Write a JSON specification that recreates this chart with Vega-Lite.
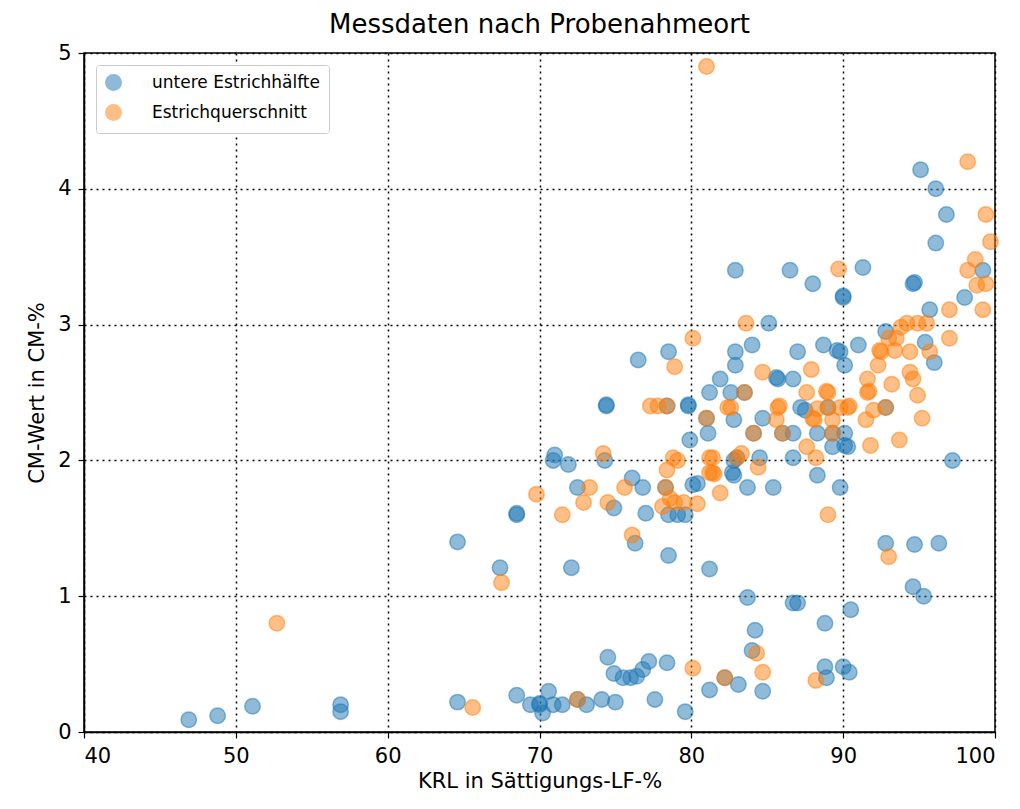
{
  "$schema": "https://vega.github.io/schema/vega-lite/v6.json",
  "autosize": "none",
  "width": 911,
  "height": 679,
  "padding": {"left": 84, "top": 53, "right": 25, "bottom": 77},
  "background": "white",
  "config": {
    "font": "DejaVu Sans",
    "view": {"stroke": "black", "strokeWidth": 1.5},
    "axis": {
      "domainColor": "black", "domainWidth": 1.5,
      "tickColor": "black", "tickSize": 6, "tickWidth": 1.2,
      "labelColor": "black", "labelFontSize": 21, "labelFont": "DejaVu Sans", "labelPadding": 7,
      "titleColor": "black", "titleFontSize": 21, "titleFont": "DejaVu Sans", "titleFontWeight": "normal",
      "grid": true, "gridColor": "black", "gridOpacity": 1, "gridWidth": 1.5, "gridDash": [2, 4]
    }
  },
  "title": {"text": "Messdaten nach Probenahmeort", "fontSize": 26, "font": "DejaVu Sans", "fontWeight": "normal", "color": "black", "offset": 4},
  "data": {"values": [
    {"krl": 46.9, "cm": 0.09, "ort": "untere Estrichhälfte"},
    {"krl": 48.8, "cm": 0.12, "ort": "untere Estrichhälfte"},
    {"krl": 51.1, "cm": 0.19, "ort": "untere Estrichhälfte"},
    {"krl": 56.9, "cm": 0.20, "ort": "untere Estrichhälfte"},
    {"krl": 56.9, "cm": 0.15, "ort": "untere Estrichhälfte"},
    {"krl": 64.6, "cm": 0.22, "ort": "untere Estrichhälfte"},
    {"krl": 68.5, "cm": 0.27, "ort": "untere Estrichhälfte"},
    {"krl": 69.4, "cm": 0.20, "ort": "untere Estrichhälfte"},
    {"krl": 70.0, "cm": 0.20, "ort": "untere Estrichhälfte"},
    {"krl": 70.0, "cm": 0.21, "ort": "untere Estrichhälfte"},
    {"krl": 70.2, "cm": 0.14, "ort": "untere Estrichhälfte"},
    {"krl": 70.6, "cm": 0.30, "ort": "untere Estrichhälfte"},
    {"krl": 70.9, "cm": 0.20, "ort": "untere Estrichhälfte"},
    {"krl": 71.5, "cm": 0.20, "ort": "untere Estrichhälfte"},
    {"krl": 72.5, "cm": 0.24, "ort": "untere Estrichhälfte"},
    {"krl": 73.1, "cm": 0.20, "ort": "untere Estrichhälfte"},
    {"krl": 74.1, "cm": 0.24, "ort": "untere Estrichhälfte"},
    {"krl": 75.0, "cm": 0.22, "ort": "untere Estrichhälfte"},
    {"krl": 74.5, "cm": 0.55, "ort": "untere Estrichhälfte"},
    {"krl": 74.9, "cm": 0.43, "ort": "untere Estrichhälfte"},
    {"krl": 75.5, "cm": 0.40, "ort": "untere Estrichhälfte"},
    {"krl": 76.0, "cm": 0.40, "ort": "untere Estrichhälfte"},
    {"krl": 76.4, "cm": 0.41, "ort": "untere Estrichhälfte"},
    {"krl": 76.8, "cm": 0.46, "ort": "untere Estrichhälfte"},
    {"krl": 77.2, "cm": 0.52, "ort": "untere Estrichhälfte"},
    {"krl": 77.6, "cm": 0.24, "ort": "untere Estrichhälfte"},
    {"krl": 78.4, "cm": 0.51, "ort": "untere Estrichhälfte"},
    {"krl": 79.6, "cm": 0.15, "ort": "untere Estrichhälfte"},
    {"krl": 81.2, "cm": 0.31, "ort": "untere Estrichhälfte"},
    {"krl": 82.2, "cm": 0.40, "ort": "untere Estrichhälfte"},
    {"krl": 83.1, "cm": 0.35, "ort": "untere Estrichhälfte"},
    {"krl": 84.7, "cm": 0.30, "ort": "untere Estrichhälfte"},
    {"krl": 84.0, "cm": 0.60, "ort": "untere Estrichhälfte"},
    {"krl": 84.2, "cm": 0.75, "ort": "untere Estrichhälfte"},
    {"krl": 83.7, "cm": 0.99, "ort": "untere Estrichhälfte"},
    {"krl": 86.7, "cm": 0.95, "ort": "untere Estrichhälfte"},
    {"krl": 87.0, "cm": 0.95, "ort": "untere Estrichhälfte"},
    {"krl": 88.8, "cm": 0.80, "ort": "untere Estrichhälfte"},
    {"krl": 88.8, "cm": 0.48, "ort": "untere Estrichhälfte"},
    {"krl": 88.9, "cm": 0.40, "ort": "untere Estrichhälfte"},
    {"krl": 90.0, "cm": 0.48, "ort": "untere Estrichhälfte"},
    {"krl": 90.4, "cm": 0.44, "ort": "untere Estrichhälfte"},
    {"krl": 90.5, "cm": 0.90, "ort": "untere Estrichhälfte"},
    {"krl": 92.8, "cm": 1.39, "ort": "untere Estrichhälfte"},
    {"krl": 94.7, "cm": 1.38, "ort": "untere Estrichhälfte"},
    {"krl": 96.3, "cm": 1.39, "ort": "untere Estrichhälfte"},
    {"krl": 94.6, "cm": 1.07, "ort": "untere Estrichhälfte"},
    {"krl": 95.3, "cm": 1.00, "ort": "untere Estrichhälfte"},
    {"krl": 64.6, "cm": 1.40, "ort": "untere Estrichhälfte"},
    {"krl": 67.4, "cm": 1.21, "ort": "untere Estrichhälfte"},
    {"krl": 72.1, "cm": 1.21, "ort": "untere Estrichhälfte"},
    {"krl": 76.3, "cm": 1.39, "ort": "untere Estrichhälfte"},
    {"krl": 78.5, "cm": 1.30, "ort": "untere Estrichhälfte"},
    {"krl": 81.2, "cm": 1.20, "ort": "untere Estrichhälfte"},
    {"krl": 68.5, "cm": 1.60, "ort": "untere Estrichhälfte"},
    {"krl": 68.5, "cm": 1.61, "ort": "untere Estrichhälfte"},
    {"krl": 70.9, "cm": 2.00, "ort": "untere Estrichhälfte"},
    {"krl": 71.0, "cm": 2.04, "ort": "untere Estrichhälfte"},
    {"krl": 71.9, "cm": 1.97, "ort": "untere Estrichhälfte"},
    {"krl": 72.5, "cm": 1.80, "ort": "untere Estrichhälfte"},
    {"krl": 74.3, "cm": 2.00, "ort": "untere Estrichhälfte"},
    {"krl": 74.9, "cm": 1.65, "ort": "untere Estrichhälfte"},
    {"krl": 76.1, "cm": 1.87, "ort": "untere Estrichhälfte"},
    {"krl": 76.8, "cm": 1.80, "ort": "untere Estrichhälfte"},
    {"krl": 77.0, "cm": 1.61, "ort": "untere Estrichhälfte"},
    {"krl": 74.4, "cm": 2.40, "ort": "untere Estrichhälfte"},
    {"krl": 74.4, "cm": 2.41, "ort": "untere Estrichhälfte"},
    {"krl": 76.5, "cm": 2.74, "ort": "untere Estrichhälfte"},
    {"krl": 78.5, "cm": 2.80, "ort": "untere Estrichhälfte"},
    {"krl": 78.4, "cm": 2.40, "ort": "untere Estrichhälfte"},
    {"krl": 79.8, "cm": 2.40, "ort": "untere Estrichhälfte"},
    {"krl": 79.8, "cm": 2.41, "ort": "untere Estrichhälfte"},
    {"krl": 81.0, "cm": 2.31, "ort": "untere Estrichhälfte"},
    {"krl": 81.1, "cm": 2.20, "ort": "untere Estrichhälfte"},
    {"krl": 79.9, "cm": 2.15, "ort": "untere Estrichhälfte"},
    {"krl": 81.9, "cm": 2.60, "ort": "untere Estrichhälfte"},
    {"krl": 81.2, "cm": 2.50, "ort": "untere Estrichhälfte"},
    {"krl": 82.6, "cm": 2.50, "ort": "untere Estrichhälfte"},
    {"krl": 82.9, "cm": 2.80, "ort": "untere Estrichhälfte"},
    {"krl": 82.9, "cm": 2.70, "ort": "untere Estrichhälfte"},
    {"krl": 82.8, "cm": 2.30, "ort": "untere Estrichhälfte"},
    {"krl": 80.1, "cm": 1.82, "ort": "untere Estrichhälfte"},
    {"krl": 80.4, "cm": 1.83, "ort": "untere Estrichhälfte"},
    {"krl": 78.3, "cm": 1.80, "ort": "untere Estrichhälfte"},
    {"krl": 78.5, "cm": 1.60, "ort": "untere Estrichhälfte"},
    {"krl": 79.1, "cm": 1.60, "ort": "untere Estrichhälfte"},
    {"krl": 79.6, "cm": 1.60, "ort": "untere Estrichhälfte"},
    {"krl": 82.7, "cm": 1.91, "ort": "untere Estrichhälfte"},
    {"krl": 82.8, "cm": 2.00, "ort": "untere Estrichhälfte"},
    {"krl": 84.0, "cm": 2.85, "ort": "untere Estrichhälfte"},
    {"krl": 84.7, "cm": 2.31, "ort": "untere Estrichhälfte"},
    {"krl": 83.5, "cm": 2.50, "ort": "untere Estrichhälfte"},
    {"krl": 85.7, "cm": 2.60, "ort": "untere Estrichhälfte"},
    {"krl": 85.6, "cm": 2.61, "ort": "untere Estrichhälfte"},
    {"krl": 86.7, "cm": 2.60, "ort": "untere Estrichhälfte"},
    {"krl": 87.0, "cm": 2.80, "ort": "untere Estrichhälfte"},
    {"krl": 88.7, "cm": 2.85, "ort": "untere Estrichhälfte"},
    {"krl": 89.6, "cm": 2.81, "ort": "untere Estrichhälfte"},
    {"krl": 89.8, "cm": 2.80, "ort": "untere Estrichhälfte"},
    {"krl": 91.0, "cm": 2.85, "ort": "untere Estrichhälfte"},
    {"krl": 90.1, "cm": 2.70, "ort": "untere Estrichhälfte"},
    {"krl": 87.2, "cm": 2.39, "ort": "untere Estrichhälfte"},
    {"krl": 87.5, "cm": 2.37, "ort": "untere Estrichhälfte"},
    {"krl": 89.0, "cm": 2.39, "ort": "untere Estrichhälfte"},
    {"krl": 84.1, "cm": 2.20, "ort": "untere Estrichhälfte"},
    {"krl": 86.0, "cm": 2.20, "ort": "untere Estrichhälfte"},
    {"krl": 86.7, "cm": 2.20, "ort": "untere Estrichhälfte"},
    {"krl": 88.3, "cm": 2.20, "ort": "untere Estrichhälfte"},
    {"krl": 89.3, "cm": 2.20, "ort": "untere Estrichhälfte"},
    {"krl": 90.1, "cm": 2.20, "ort": "untere Estrichhälfte"},
    {"krl": 89.3, "cm": 2.10, "ort": "untere Estrichhälfte"},
    {"krl": 90.3, "cm": 2.10, "ort": "untere Estrichhälfte"},
    {"krl": 90.1, "cm": 2.11, "ort": "untere Estrichhälfte"},
    {"krl": 83.0, "cm": 2.02, "ort": "untere Estrichhälfte"},
    {"krl": 84.5, "cm": 2.02, "ort": "untere Estrichhälfte"},
    {"krl": 86.7, "cm": 2.02, "ort": "untere Estrichhälfte"},
    {"krl": 82.8, "cm": 1.89, "ort": "untere Estrichhälfte"},
    {"krl": 88.3, "cm": 1.89, "ort": "untere Estrichhälfte"},
    {"krl": 83.7, "cm": 1.80, "ort": "untere Estrichhälfte"},
    {"krl": 85.4, "cm": 1.80, "ort": "untere Estrichhälfte"},
    {"krl": 89.8, "cm": 1.80, "ort": "untere Estrichhälfte"},
    {"krl": 97.2, "cm": 2.00, "ort": "untere Estrichhälfte"},
    {"krl": 92.8, "cm": 2.39, "ort": "untere Estrichhälfte"},
    {"krl": 95.1, "cm": 4.14, "ort": "untere Estrichhälfte"},
    {"krl": 96.1, "cm": 4.00, "ort": "untere Estrichhälfte"},
    {"krl": 96.8, "cm": 3.81, "ort": "untere Estrichhälfte"},
    {"krl": 96.1, "cm": 3.60, "ort": "untere Estrichhälfte"},
    {"krl": 99.2, "cm": 3.40, "ort": "untere Estrichhälfte"},
    {"krl": 98.0, "cm": 3.20, "ort": "untere Estrichhälfte"},
    {"krl": 95.7, "cm": 3.11, "ort": "untere Estrichhälfte"},
    {"krl": 94.6, "cm": 3.30, "ort": "untere Estrichhälfte"},
    {"krl": 94.7, "cm": 3.31, "ort": "untere Estrichhälfte"},
    {"krl": 91.3, "cm": 3.42, "ort": "untere Estrichhälfte"},
    {"krl": 90.0, "cm": 3.20, "ort": "untere Estrichhälfte"},
    {"krl": 90.0, "cm": 3.21, "ort": "untere Estrichhälfte"},
    {"krl": 88.0, "cm": 3.30, "ort": "untere Estrichhälfte"},
    {"krl": 86.5, "cm": 3.40, "ort": "untere Estrichhälfte"},
    {"krl": 82.9, "cm": 3.40, "ort": "untere Estrichhälfte"},
    {"krl": 85.1, "cm": 3.01, "ort": "untere Estrichhälfte"},
    {"krl": 92.8, "cm": 2.95, "ort": "untere Estrichhälfte"},
    {"krl": 95.4, "cm": 2.87, "ort": "untere Estrichhälfte"},
    {"krl": 96.0, "cm": 2.72, "ort": "untere Estrichhälfte"},
    {"krl": 52.7, "cm": 0.80, "ort": "Estrichquerschnitt"},
    {"krl": 65.6, "cm": 0.18, "ort": "Estrichquerschnitt"},
    {"krl": 67.5, "cm": 1.10, "ort": "Estrichquerschnitt"},
    {"krl": 72.5, "cm": 0.24, "ort": "Estrichquerschnitt"},
    {"krl": 76.1, "cm": 1.45, "ort": "Estrichquerschnitt"},
    {"krl": 80.1, "cm": 0.47, "ort": "Estrichquerschnitt"},
    {"krl": 82.2, "cm": 0.40, "ort": "Estrichquerschnitt"},
    {"krl": 84.3, "cm": 0.58, "ort": "Estrichquerschnitt"},
    {"krl": 84.7, "cm": 0.44, "ort": "Estrichquerschnitt"},
    {"krl": 88.2, "cm": 0.38, "ort": "Estrichquerschnitt"},
    {"krl": 93.0, "cm": 1.29, "ort": "Estrichquerschnitt"},
    {"krl": 69.8, "cm": 1.75, "ort": "Estrichquerschnitt"},
    {"krl": 71.5, "cm": 1.60, "ort": "Estrichquerschnitt"},
    {"krl": 73.3, "cm": 1.80, "ort": "Estrichquerschnitt"},
    {"krl": 72.9, "cm": 1.69, "ort": "Estrichquerschnitt"},
    {"krl": 74.2, "cm": 2.05, "ort": "Estrichquerschnitt"},
    {"krl": 74.5, "cm": 1.69, "ort": "Estrichquerschnitt"},
    {"krl": 75.6, "cm": 1.80, "ort": "Estrichquerschnitt"},
    {"krl": 77.3, "cm": 2.40, "ort": "Estrichquerschnitt"},
    {"krl": 77.8, "cm": 2.40, "ort": "Estrichquerschnitt"},
    {"krl": 78.4, "cm": 2.40, "ort": "Estrichquerschnitt"},
    {"krl": 78.9, "cm": 2.69, "ort": "Estrichquerschnitt"},
    {"krl": 80.1, "cm": 2.90, "ort": "Estrichquerschnitt"},
    {"krl": 81.0, "cm": 2.31, "ort": "Estrichquerschnitt"},
    {"krl": 82.4, "cm": 2.39, "ort": "Estrichquerschnitt"},
    {"krl": 78.8, "cm": 2.02, "ort": "Estrichquerschnitt"},
    {"krl": 78.4, "cm": 1.93, "ort": "Estrichquerschnitt"},
    {"krl": 81.2, "cm": 2.02, "ort": "Estrichquerschnitt"},
    {"krl": 81.2, "cm": 1.91, "ort": "Estrichquerschnitt"},
    {"krl": 81.9, "cm": 1.76, "ort": "Estrichquerschnitt"},
    {"krl": 78.3, "cm": 1.80, "ort": "Estrichquerschnitt"},
    {"krl": 78.6, "cm": 1.72, "ort": "Estrichquerschnitt"},
    {"krl": 78.9, "cm": 1.69, "ort": "Estrichquerschnitt"},
    {"krl": 79.5, "cm": 1.69, "ort": "Estrichquerschnitt"},
    {"krl": 78.1, "cm": 1.66, "ort": "Estrichquerschnitt"},
    {"krl": 80.4, "cm": 1.68, "ort": "Estrichquerschnitt"},
    {"krl": 79.1, "cm": 2.00, "ort": "Estrichquerschnitt"},
    {"krl": 84.7, "cm": 2.65, "ort": "Estrichquerschnitt"},
    {"krl": 83.5, "cm": 2.50, "ort": "Estrichquerschnitt"},
    {"krl": 87.9, "cm": 2.67, "ort": "Estrichquerschnitt"},
    {"krl": 87.6, "cm": 2.50, "ort": "Estrichquerschnitt"},
    {"krl": 89.0, "cm": 2.50, "ort": "Estrichquerschnitt"},
    {"krl": 88.9, "cm": 2.51, "ort": "Estrichquerschnitt"},
    {"krl": 91.6, "cm": 2.60, "ort": "Estrichquerschnitt"},
    {"krl": 91.6, "cm": 2.50, "ort": "Estrichquerschnitt"},
    {"krl": 91.7, "cm": 2.51, "ort": "Estrichquerschnitt"},
    {"krl": 92.3, "cm": 2.70, "ort": "Estrichquerschnitt"},
    {"krl": 92.5, "cm": 2.80, "ort": "Estrichquerschnitt"},
    {"krl": 93.2, "cm": 2.56, "ort": "Estrichquerschnitt"},
    {"krl": 92.8, "cm": 2.39, "ort": "Estrichquerschnitt"},
    {"krl": 94.4, "cm": 2.65, "ort": "Estrichquerschnitt"},
    {"krl": 94.6, "cm": 2.60, "ort": "Estrichquerschnitt"},
    {"krl": 94.9, "cm": 2.48, "ort": "Estrichquerschnitt"},
    {"krl": 95.2, "cm": 2.31, "ort": "Estrichquerschnitt"},
    {"krl": 93.7, "cm": 2.15, "ort": "Estrichquerschnitt"},
    {"krl": 91.8, "cm": 2.11, "ort": "Estrichquerschnitt"},
    {"krl": 91.5, "cm": 2.30, "ort": "Estrichquerschnitt"},
    {"krl": 92.0, "cm": 2.37, "ort": "Estrichquerschnitt"},
    {"krl": 90.3, "cm": 2.39, "ort": "Estrichquerschnitt"},
    {"krl": 90.4, "cm": 2.40, "ort": "Estrichquerschnitt"},
    {"krl": 89.8, "cm": 2.39, "ort": "Estrichquerschnitt"},
    {"krl": 89.0, "cm": 2.39, "ort": "Estrichquerschnitt"},
    {"krl": 85.7, "cm": 2.39, "ort": "Estrichquerschnitt"},
    {"krl": 85.8, "cm": 2.40, "ort": "Estrichquerschnitt"},
    {"krl": 88.0, "cm": 2.31, "ort": "Estrichquerschnitt"},
    {"krl": 88.1, "cm": 2.30, "ort": "Estrichquerschnitt"},
    {"krl": 89.3, "cm": 2.30, "ort": "Estrichquerschnitt"},
    {"krl": 88.3, "cm": 2.38, "ort": "Estrichquerschnitt"},
    {"krl": 85.6, "cm": 2.30, "ort": "Estrichquerschnitt"},
    {"krl": 82.6, "cm": 2.39, "ort": "Estrichquerschnitt"},
    {"krl": 84.1, "cm": 2.20, "ort": "Estrichquerschnitt"},
    {"krl": 86.0, "cm": 2.20, "ort": "Estrichquerschnitt"},
    {"krl": 89.3, "cm": 2.20, "ort": "Estrichquerschnitt"},
    {"krl": 87.6, "cm": 2.10, "ort": "Estrichquerschnitt"},
    {"krl": 81.4, "cm": 2.02, "ort": "Estrichquerschnitt"},
    {"krl": 83.0, "cm": 2.02, "ort": "Estrichquerschnitt"},
    {"krl": 88.2, "cm": 2.02, "ort": "Estrichquerschnitt"},
    {"krl": 83.3, "cm": 2.05, "ort": "Estrichquerschnitt"},
    {"krl": 84.4, "cm": 1.95, "ort": "Estrichquerschnitt"},
    {"krl": 81.4, "cm": 1.91, "ort": "Estrichquerschnitt"},
    {"krl": 81.5, "cm": 1.90, "ort": "Estrichquerschnitt"},
    {"krl": 89.0, "cm": 1.60, "ort": "Estrichquerschnitt"},
    {"krl": 81.0, "cm": 4.90, "ort": "Estrichquerschnitt"},
    {"krl": 98.2, "cm": 4.20, "ort": "Estrichquerschnitt"},
    {"krl": 99.4, "cm": 3.81, "ort": "Estrichquerschnitt"},
    {"krl": 99.7, "cm": 3.61, "ort": "Estrichquerschnitt"},
    {"krl": 98.7, "cm": 3.48, "ort": "Estrichquerschnitt"},
    {"krl": 98.2, "cm": 3.40, "ort": "Estrichquerschnitt"},
    {"krl": 98.8, "cm": 3.29, "ort": "Estrichquerschnitt"},
    {"krl": 99.4, "cm": 3.30, "ort": "Estrichquerschnitt"},
    {"krl": 99.2, "cm": 3.11, "ort": "Estrichquerschnitt"},
    {"krl": 97.0, "cm": 3.11, "ort": "Estrichquerschnitt"},
    {"krl": 89.7, "cm": 3.41, "ort": "Estrichquerschnitt"},
    {"krl": 83.6, "cm": 3.01, "ort": "Estrichquerschnitt"},
    {"krl": 94.2, "cm": 3.01, "ort": "Estrichquerschnitt"},
    {"krl": 94.9, "cm": 3.01, "ort": "Estrichquerschnitt"},
    {"krl": 95.5, "cm": 3.01, "ort": "Estrichquerschnitt"},
    {"krl": 93.5, "cm": 2.90, "ort": "Estrichquerschnitt"},
    {"krl": 92.4, "cm": 2.81, "ort": "Estrichquerschnitt"},
    {"krl": 93.4, "cm": 2.81, "ort": "Estrichquerschnitt"},
    {"krl": 94.4, "cm": 2.80, "ort": "Estrichquerschnitt"},
    {"krl": 95.7, "cm": 2.80, "ort": "Estrichquerschnitt"},
    {"krl": 97.0, "cm": 2.90, "ort": "Estrichquerschnitt"},
    {"krl": 93.0, "cm": 2.90, "ort": "Estrichquerschnitt"},
    {"krl": 93.8, "cm": 2.98, "ort": "Estrichquerschnitt"}
  ]},
  "mark": {"type": "point", "filled": true, "shape": "circle", "size": 240, "fillOpacity": 0.5, "strokeOpacity": 0.5, "strokeWidth": 1.5, "opacity": 1},
  "encoding": {
    "x": {"field": "krl", "type": "quantitative", "title": "KRL in Sättigungs-LF-%",
      "scale": {"domain": [40, 100], "nice": false, "zero": false},
      "axis": {"values": [40, 50, 60, 70, 80, 90, 100], "titlePadding": 4}},
    "y": {"field": "cm", "type": "quantitative", "title": "CM-Wert in CM-%",
      "scale": {"domain": [0, 5], "nice": false},
      "axis": {"values": [0, 1, 2, 3, 4, 5], "titlePadding": 10}},
    "color": {"field": "ort", "type": "nominal", "sort": null,
      "scale": {"domain": ["untere Estrichhälfte", "Estrichquerschnitt"], "range": ["#1f77b4", "#ff7f0e"]},
      "legend": {"title": null, "orient": "top-left", "offset": 12, "fillColor": "white", "strokeColor": "#cccccc", "cornerRadius": 3, "padding": 9,
        "labelFontSize": 17, "labelFont": "DejaVu Sans", "labelColor": "black", "labelOffset": 30, "labelLimit": 400, "symbolSize": 240, "symbolType": "circle",
        "symbolOpacity": 0.5, "symbolStrokeWidth": 1.5, "rowPadding": 7}},
    "order": {"field": "ort", "sort": "descending"},
    "stroke": {"field": "ort", "type": "nominal", "scale": {"domain": ["untere Estrichhälfte", "Estrichquerschnitt"], "range": ["#1f77b4", "#ff7f0e"]}, "legend": null}
  }
}
